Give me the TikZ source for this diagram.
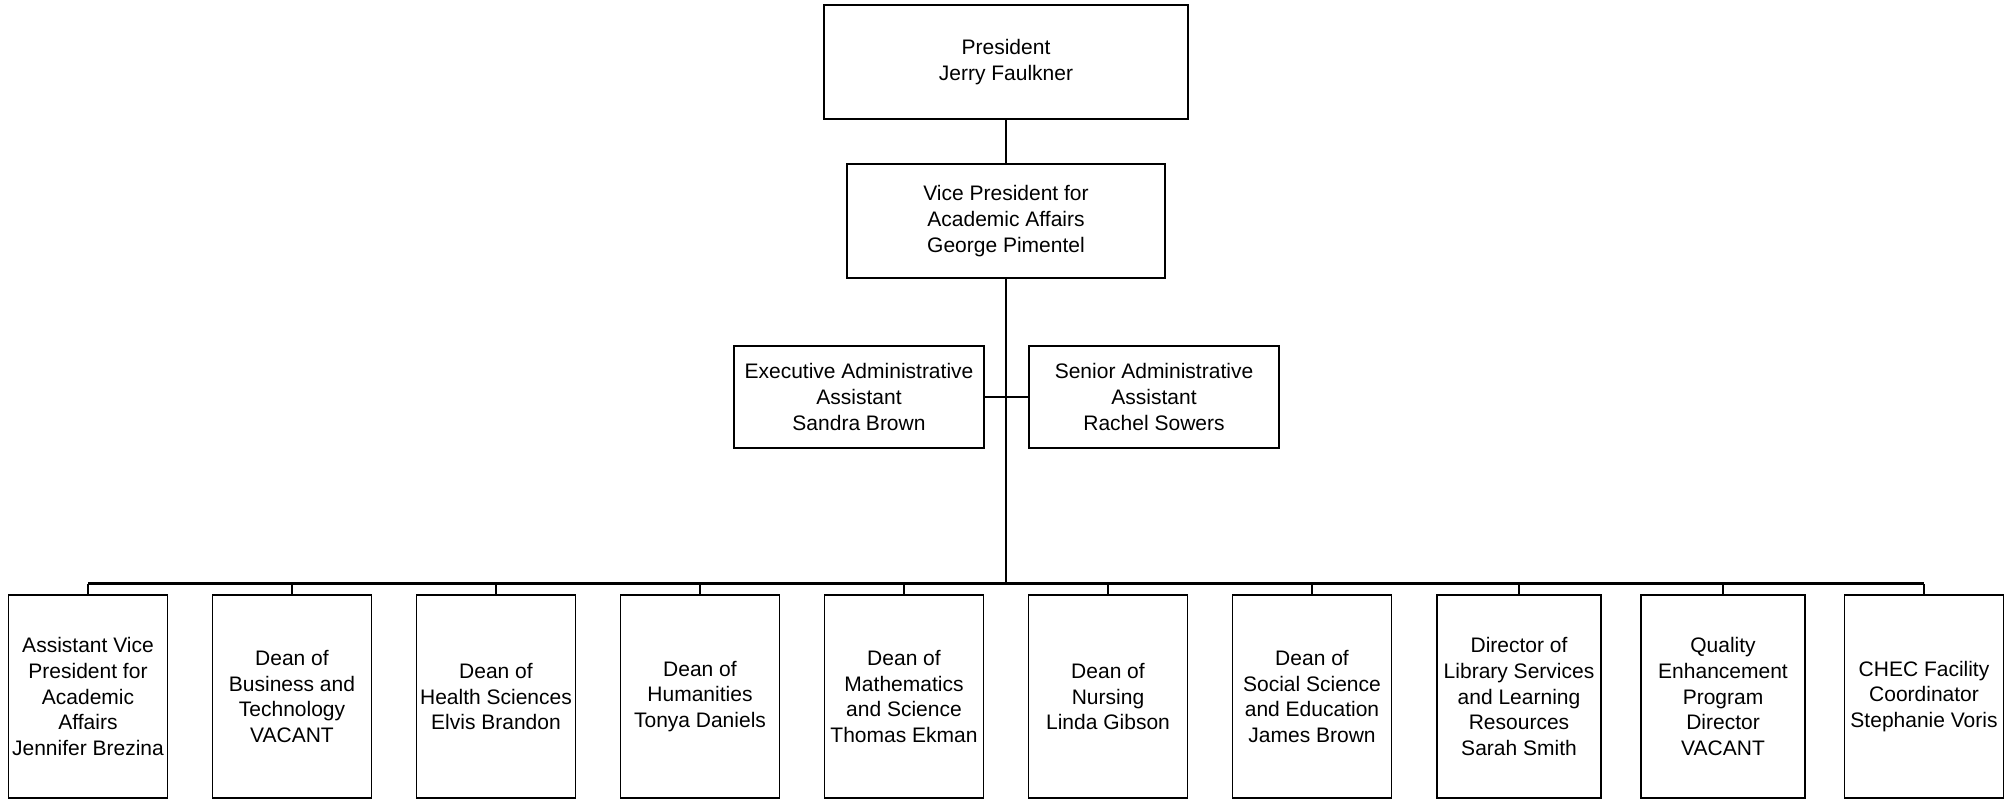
\documentclass[tikz,border=0pt]{standalone}
\usepackage{fontspec}
\setmainfont{Liberation Sans}
\usepackage{tikz}
\usetikzlibrary{positioning,calc}

\begin{document}
\begin{tikzpicture}[
    x=0.5pt, y=-0.5pt,
    post/.style={draw, line width=0.65pt, align=center, inner sep=0pt,
                 font=\fontsize{10.5}{12.85}\selectfont},
    dean/.style={post, minimum width=79.5pt, minimum height=101.5pt},
    link/.style={line width=0.65pt},
    trunk/.style={line width=1.15pt},
]
    \useasboundingbox (0,0) rectangle (2016,799);
    % top of the chart
    \node[post, minimum width=182pt, minimum height=57pt] (pres) at (1006,62)
        {President\\Jerry Faulkner};
    \node[post, minimum width=159pt, minimum height=57pt] (vp) at (1006,221)
        {Vice President for\\Academic Affairs\\George Pimentel};
    \node[post, minimum width=125pt, minimum height=51pt] (exec) at (859,397)
        {Executive Administrative\\Assistant\\Sandra Brown};
    \node[post, minimum width=125pt, minimum height=51pt] (senior) at (1154,397)
        {Senior Administrative\\Assistant\\Rachel Sowers};
    % deans and directors
    \node[dean] (avp) at (88,696.5)
        {Assistant Vice\\President for\\Academic\\Affairs\\Jennifer Brezina};
    \node[dean] (busi) at (292,696.5)
        {Dean of\\Business and\\Technology\\VACANT};
    \node[dean] (heal) at (496,696.5)
        {Dean of\\Health Sciences\\Elvis Brandon};
    \node[dean] (huma) at (700,696.5)
        {Dean of\\Humanities\\Tonya Daniels};
    \node[dean] (math) at (904,696.5)
        {Dean of\\Mathematics\\and Science\\Thomas Ekman};
    \node[dean] (nurs) at (1108,696.5)
        {Dean of\\Nursing\\Linda Gibson};
    \node[dean] (soci) at (1312,696.5)
        {Dean of\\Social Science\\and Education\\James Brown};
    \node[dean, minimum width=82pt] (libr) at (1519,696.5)
        {Director of\\Library Services\\and Learning\\Resources\\Sarah Smith};
    \node[dean, minimum width=82pt] (qep) at (1723,696.5)
        {Quality\\Enhancement\\Program\\Director\\VACANT};
    \node[dean] (chec) at (1924,696.5)
        {CHEC Facility\\Coordinator\\Stephanie Voris};
    % connectors
    \coordinate (hub) at (1006,583.5);
    \draw[link] (pres) -- (vp);
    \draw[trunk] (vp.south) -- (hub);
    \draw[link] (exec.east) -- (senior.west);
    \draw[trunk] (avp.north |- hub) -- (chec.north |- hub);
    \foreach \d in {avp,busi,heal,huma,math,nurs,soci,libr,qep,chec}
        \draw[link] (\d.north) -- (\d.north |- hub);
\end{tikzpicture}
\end{document}
